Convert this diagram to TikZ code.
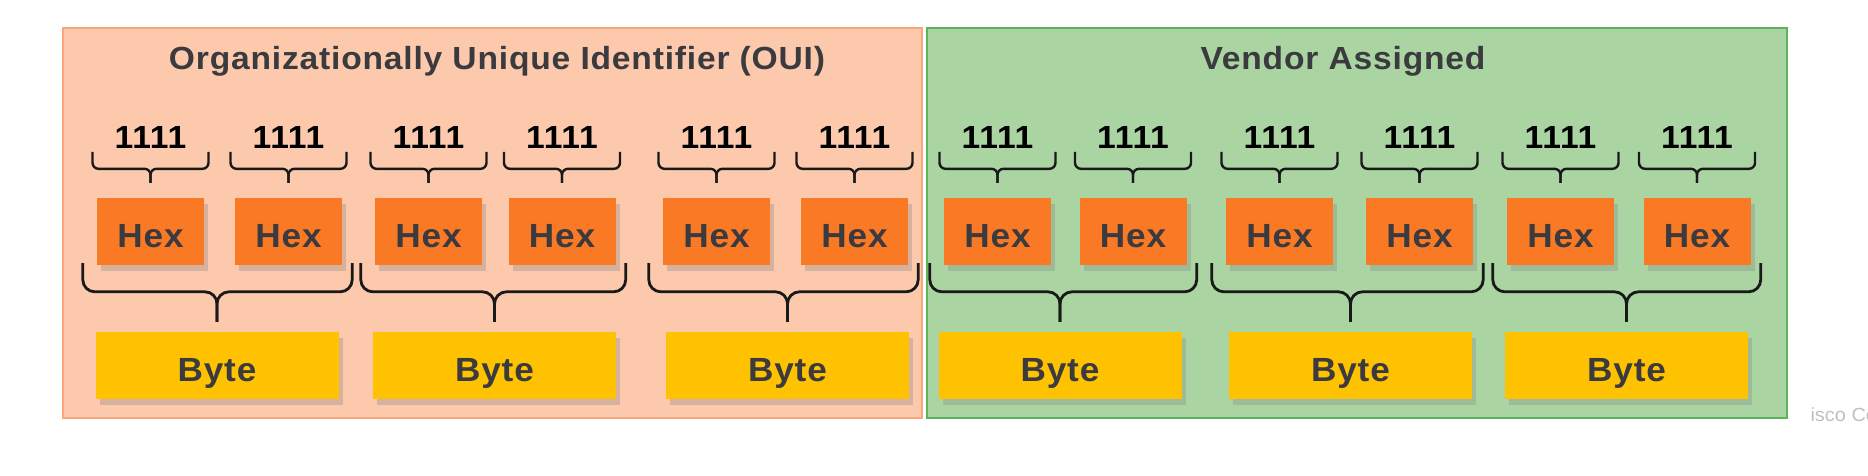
\documentclass[tikz,border=0pt]{standalone}
\usepackage{fontspec}
\setmainfont{Liberation Sans}[LetterSpace=2.5, FakeStretch=1.05]
\usepackage{xcolor}
\usetikzlibrary{calc}
\usetikzlibrary{shadows}
\definecolor{ouifill}{RGB}{252,201,172}
\definecolor{ouiline}{RGB}{246,168,122}
\definecolor{vendfill}{RGB}{170,213,163}
\definecolor{vendline}{RGB}{90,180,90}
\definecolor{hexorange}{RGB}{250,121,37}
\definecolor{byteyellow}{RGB}{255,194,0}
\definecolor{inkgray}{RGB}{58,58,63}
\tikzset{
 panel/.style={line width=2pt, anchor=north west, inner sep=0pt, outer sep=0pt, minimum height=390pt},
 title/.style={anchor=base, text=inkgray, font=\fontsize{32}{32}\selectfont\bfseries},
 bits/.style={anchor=base, text=black, font=\fontsize{32}{32}\selectfont\bfseries},
 hexbox/.style={fill=hexorange, minimum width=107pt, minimum height=67pt, inner sep=0pt,
   text height=31pt, text depth=0pt, text=inkgray, font=\fontsize{33.5}{33.5}\selectfont\bfseries,
   drop shadow={shadow xshift=4pt, shadow yshift=-6pt, opacity=.3}},
 bytebox/.style={hexbox, fill=byteyellow, minimum width=243pt, text height=32pt},
 smallbrace/.style={black!90, line width=2.4pt, rounded corners=6pt},
 bigbrace/.style={black!90, line width=2.8pt, rounded corners=12pt},
}

\begin{document}
\begin{tikzpicture}[x=1pt, y=-1pt]
\useasboundingbox (0,0) rectangle (1868,476);
\node[panel, fill=ouifill, draw=ouiline, minimum width=859pt] (oui) at (63,28) {};
\node[panel, fill=vendfill, draw=vendline, minimum width=860pt] (vendor) at (927,28) {};
\node[title] (ouititle) at (497,70) {Organizationally Unique Identifier (OUI)};
\node[title] (vendortitle) at (1343,70) {Vendor Assigned};
\foreach \x [count=\i] in {150.5,288.5,428.5,562,716.5,854.5,997.5,1133,1279.5,1419.5,1560.5,1697} {
 \node[hexbox] (hex\i) at (\x,231.5) {Hex};
 \node[bits] (bits\i) at (\x,148) {1111};
 \draw[smallbrace] ($(hex\i.north)+(-58,-46)$) |- ($(hex\i.north)+(0,-29)$) -- ($(hex\i.north)+(0,-15)$);
 \draw[smallbrace] ($(hex\i.north)+(58,-46)$) |- ($(hex\i.north)+(0,-29)$) -- ($(hex\i.north)+(0,-15)$);
}
\foreach \x [count=\j, evaluate=\j as \a using int(2*\j-1), evaluate=\j as \b using int(2*\j)] in {217,494.5,787.5,1060,1350.5,1626.5} {
 \node[bytebox] (byte\j) at (\x,365.5) {Byte};
 \draw[bigbrace] ($(hex\a.south west)+(-14,-2)$) |- ($(byte\j.north)+(0,-40)$) -- ($(byte\j.north)+(0,-10)$);
 \draw[bigbrace] ($(hex\b.south east)+(10,-2)$) |- ($(byte\j.north)+(0,-40)$) -- ($(byte\j.north)+(0,-10)$);
}
\node[anchor=base west, text=black!25, font=\fontsize{19}{19}\selectfont\addfontfeatures{LetterSpace=0}] (credit) at (1807,421) {isco Co};
\end{tikzpicture}
\end{document}
